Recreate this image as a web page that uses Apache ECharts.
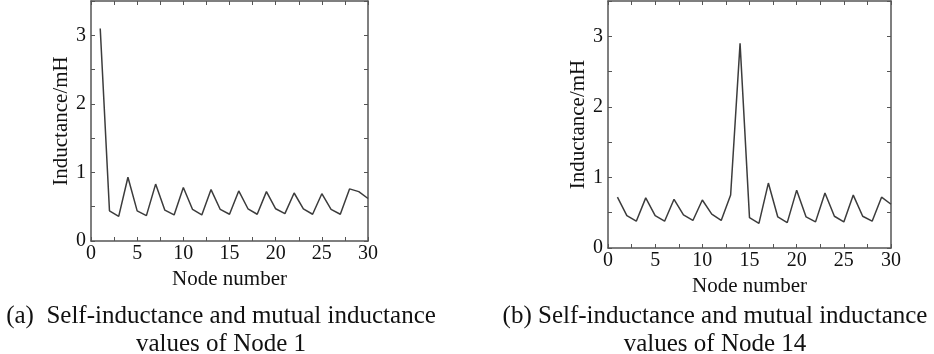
<!DOCTYPE html>
<html>
<head>
<meta charset="utf-8">
<script src="https://cdn.jsdelivr.net/npm/echarts@6/dist/echarts.min.js"></script>
<style>
  html, body { margin: 0; padding: 0; background: #fff; }
  #main { width: 934px; height: 354px; }
</style>
</head>
<body>
<div id="main"></div>
<script>
// node numbers along the x axis
var nodes = [1, 2, 3, 4, 5, 6, 7, 8, 9, 10, 11, 12, 13, 14, 15,
  16, 17, 18, 19, 20, 21, 22, 23, 24, 25, 26, 27, 28, 29, 30];

// (a) node 1
var node1Vals = [3.10, 0.44, 0.36, 0.93, 0.44, 0.37, 0.83, 0.45, 0.38, 0.78,
  0.46, 0.38, 0.75, 0.46, 0.39, 0.73, 0.47, 0.39, 0.72, 0.47,
  0.40, 0.70, 0.47, 0.39, 0.69, 0.46, 0.39, 0.76, 0.72, 0.62];

// (b) node 14
var node14Vals = [0.72, 0.46, 0.38, 0.71, 0.46, 0.38, 0.69, 0.47, 0.39, 0.68,
  0.48, 0.39, 0.75, 2.90, 0.43, 0.35, 0.92, 0.44, 0.36, 0.82,
  0.44, 0.37, 0.78, 0.45, 0.37, 0.75, 0.45, 0.38, 0.72, 0.62];

var xTicks = [0, 5, 10, 15, 20, 25, 30];
var yTicks = [0, 1, 2, 3];

var captionA = '(a)  Self-inductance and mutual inductance\nvalues of Node 1';
var captionB = '(b) Self-inductance and mutual inductance\nvalues of Node 14';

var font = '"Liberation Serif", "Times New Roman", serif';
var axisCol = '#555';
var lineCol = '#3c3c3c';

function pairs(vals) {
  return nodes.map(function (n, i) { return [n, vals[i]]; });
}

function xAx(grid, pos) {
  var main = pos === 'bottom';
  return {
    type: 'value', gridIndex: grid, position: pos,
    min: xTicks[0], max: xTicks[xTicks.length - 1], interval: 5,
    name: main ? 'Node number' : '', nameLocation: 'middle', nameGap: 23,
    nameTextStyle: { fontFamily: font, fontSize: 21, color: '#111' },
    axisLine: { show: true, onZero: false, lineStyle: { color: axisCol, width: 1.5 } },
    axisTick: { show: true, inside: true, length: 4, lineStyle: { color: axisCol } },
    minorTick: { show: true, splitNumber: 2, length: 4, lineStyle: { color: axisCol } },
    axisLabel: { show: main, fontFamily: font, fontSize: 20, color: '#111', margin: 3 },
    splitLine: { show: false }
  };
}

function yAx(grid, pos) {
  var main = pos === 'left';
  return {
    type: 'value', gridIndex: grid, position: pos,
    min: yTicks[0], max: 3.5, interval: 1,
    name: main ? 'Inductance/mH' : '', nameLocation: 'middle', nameGap: 19,
    nameTextStyle: { fontFamily: font, fontSize: 21, color: '#111' },
    axisLine: { show: true, onZero: false, lineStyle: { color: axisCol, width: 1.5 } },
    axisTick: { show: true, inside: true, length: 4, lineStyle: { color: axisCol } },
    minorTick: { show: true, splitNumber: 2, length: 4, lineStyle: { color: axisCol } },
    axisLabel: {
      show: main, fontFamily: font, fontSize: 20, color: '#111', margin: 5,
      showMaxLabel: false
    },
    splitLine: { show: false }
  };
}

var chart = echarts.init(document.getElementById('main'), null, { renderer: 'canvas' });

var capStyle = { fontFamily: font, fontSize: 25, fontWeight: 'normal', color: '#111', lineHeight: 28, align: 'center' };

var option = {
  backgroundColor: '#fff',
  animation: false,
  title: [
    { text: captionA, left: 216, top: 297, textAlign: 'center', textStyle: capStyle },
    { text: captionB, left: 710, top: 297, textAlign: 'center', textStyle: capStyle }
  ],
  grid: [
    { left: 91, right: 566, top: 1, height: 240 },
    { left: 608, right: 43, top: 1, height: 247 }
  ],
  xAxis: [xAx(0, 'bottom'), xAx(0, 'top'), xAx(1, 'bottom'), xAx(1, 'top')],
  yAxis: [yAx(0, 'left'), yAx(0, 'right'), yAx(1, 'left'), yAx(1, 'right')],
  series: [
    {
      type: 'line', xAxisIndex: 0, yAxisIndex: 0, data: pairs(node1Vals),
      showSymbol: false, lineStyle: { color: lineCol, width: 1.5 }
    },
    {
      type: 'line', xAxisIndex: 2, yAxisIndex: 2, data: pairs(node14Vals),
      showSymbol: false, lineStyle: { color: lineCol, width: 1.5 }
    }
  ]
};

chart.setOption(option);
</script>
</body>
</html>
